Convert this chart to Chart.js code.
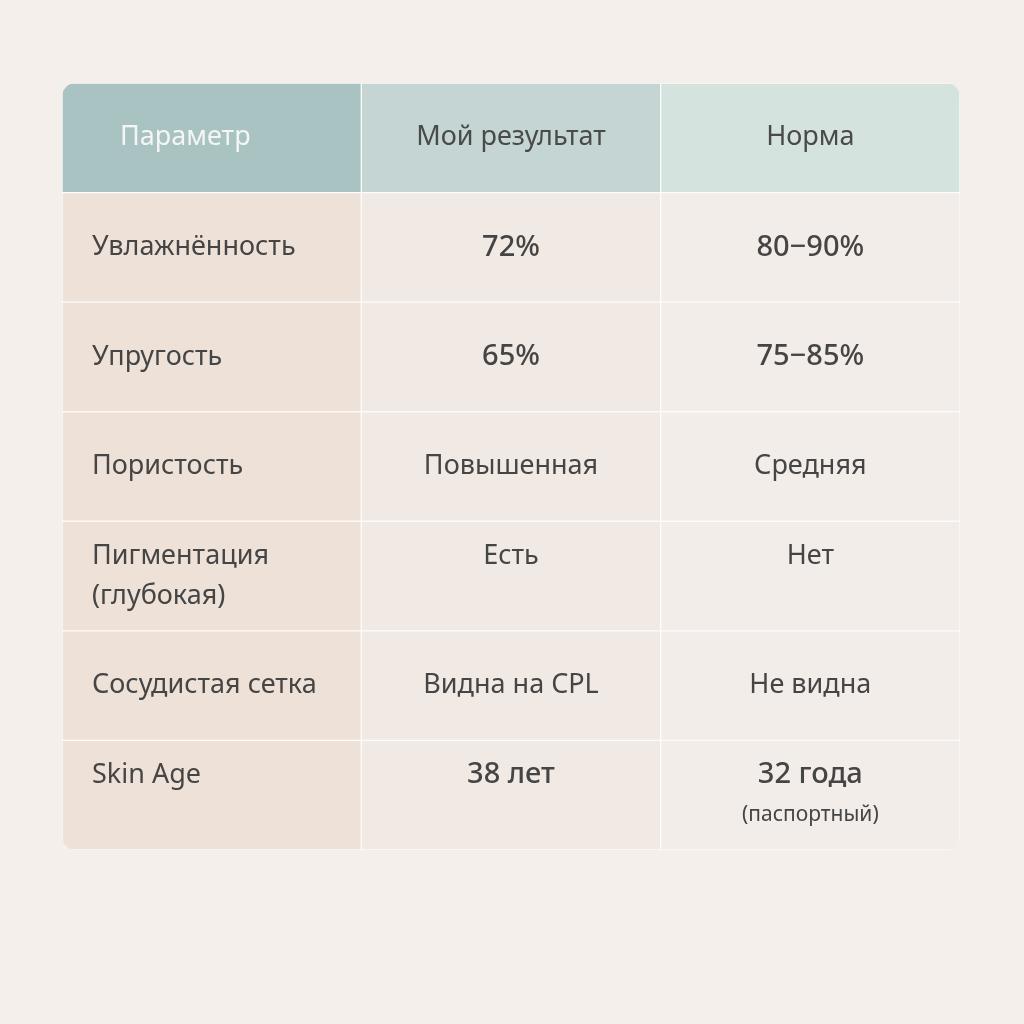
<!DOCTYPE html>
<html>
<head>
<meta charset="utf-8">
<script src="https://cdn.jsdelivr.net/npm/chart.js@4"></script>
<style>
  html, body { margin: 0; background: #f4efeb; }
  #wrap { width: 1024px; height: 1024px; }
</style>
</head>
<body>
<div id="wrap"><canvas id="tableChart"></canvas></div>
<script>
// table content
const headers = ['Параметр', 'Мой результат', 'Норма'];
const parameters = ['Увлажнённость', 'Упругость', 'Пористость', 'Пигментация\n(глубокая)', 'Сосудистая сетка', 'Skin Age'];
const myResults = ['72%', '65%', 'Повышенная', 'Есть', 'Видна на CPL', '38 лет'];
const norms = ['80−90%', '75−85%', 'Средняя', 'Нет', 'Не видна', '32 года'];
const normNotes = ['', '', '', '', '', '(паспортный)'];

const rowLabels = ['header'].concat(parameters);
const columns = [headers[0], headers[1], headers[2]];
const headerColors = ['#a9c2c2', '#c4d5d3', '#d5e3df'];
const bodyColors = ['#eee1d8', '#f1e9e4', '#f3ede9'];
const textColumns = [parameters, myResults, norms];

const ctx = document.getElementById('tableChart').getContext('2d');

const tablePlugin = {
    id: 'tableText',
    beforeDatasetsDraw(chart) {
        const c = chart.ctx, a = chart.chartArea;
        c.save();
        c.beginPath();
        c.roundRect(a.left, a.top, a.right - a.left, a.bottom - a.top, 14);
        c.clip();
    },
    afterDatasetsDraw(chart) {
        const c = chart.ctx;
        c.restore();
        const xs = chart.scales.x, ys = chart.scales.y;
        c.textBaseline = 'middle';
        // header
        headers.forEach((h, j) => {
            const y = ys.getPixelForValue(0);
            c.font = '400 27px "Noto Sans"';
            c.fillStyle = j === 0 ? '#f4f6f5' : '#4a4a4a';
            if (j === 0) {
                c.textAlign = 'left';
                c.fillText(h, xs.getPixelForValue(0) + 58, y);
            } else {
                c.textAlign = 'center';
                c.fillText(h, xs.getPixelForValue(j + 0.5), y);
            }
        });
        // body
        parameters.forEach((p, i) => {
            const y = ys.getPixelForValue(i + 1);
            const hasNote = normNotes[i] !== '';
            textColumns.forEach((col, j) => {
                const lines = col[i].split('\n');
                const isNum = /^\d/.test(col[i]);
                c.font = (isNum ? '500 29px' : '400 27px') + ' "Noto Sans"';
                c.fillStyle = '#454545';
                c.textAlign = j === 0 ? 'left' : 'center';
                const x = j === 0 ? xs.getPixelForValue(0) + 30 : xs.getPixelForValue(j + 0.5);
                const off = (lines.length - 1) * 20;
                const multi = parameters[i].includes('\n');
                const shift = (lines.length === 1 && (multi || hasNote)) ? -20 : 0;
                lines.forEach((ln, k) => c.fillText(ln, x, y - off + k * 40 + shift));
                if (j === 2 && hasNote) {
                    c.font = '400 21px "Noto Sans"';
                    c.fillText(normNotes[i], x, y + 20);
                }
            });
        });
    }
};

new Chart(ctx, {
    type: 'bar',
    data: {
        labels: rowLabels,
        datasets: columns.map((name, j) => ({
            label: name,
            data: rowLabels.map(() => 1),
            backgroundColor: rowLabels.map((r, i) => i === 0 ? headerColors[j] : bodyColors[j]),
            borderColor: 'rgba(255,255,255,0.7)',
            borderWidth: 1,
            borderSkipped: false,
            barPercentage: 1,
            categoryPercentage: 1
        }))
    },
    options: {
        indexAxis: 'y',
        responsive: true,
        maintainAspectRatio: false,
        animation: false,
        layout: { padding: { left: 62, right: 64, top: 83, bottom: 174 } },
        scales: {
            x: { stacked: true, min: 0, max: 3, display: false },
            y: { stacked: true, display: false }
        },
        plugins: { legend: { display: false }, tooltip: { enabled: false } }
    },
    plugins: [tablePlugin]
});
</script>
</body>
</html>
